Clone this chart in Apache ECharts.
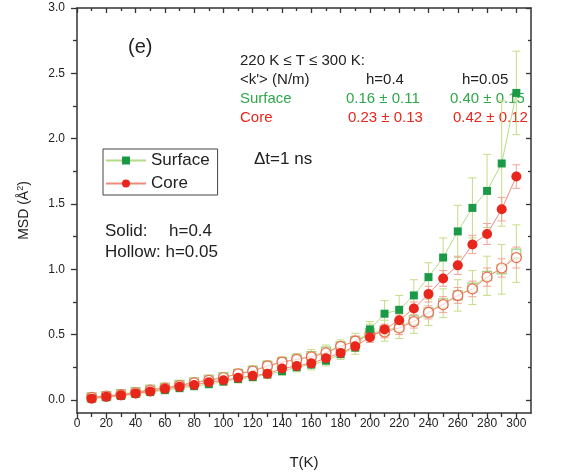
<!DOCTYPE html>
<html>
<head>
<meta charset="utf-8">
<script src="https://cdn.jsdelivr.net/npm/echarts@6/dist/echarts.min.js"></script>
<style>
  html, body { margin: 0; padding: 0; background: #fff; }
  #chart { width: 567px; height: 475px; }
</style>
</head>
<body>
<div id="chart"></div>
<script>
// temperatures (K)
const temps = [10, 20, 30, 40, 50, 60, 70, 80, 90, 100, 110, 120, 130, 140, 150,
  160, 170, 180, 190, 200, 210, 220, 230, 240, 250, 260, 270, 280, 290, 300];

// solid symbols: h = 0.4
const surfaceSolid = [0.01, 0.02, 0.03, 0.045, 0.06, 0.075, 0.09, 0.105, 0.12, 0.14,
  0.16, 0.175, 0.195, 0.22, 0.25, 0.27, 0.30, 0.35, 0.40, 0.54,
  0.66, 0.69, 0.80, 0.94, 1.09, 1.29, 1.47, 1.60, 1.81, 2.35];
const surfaceSolidErr = [0.01, 0.01, 0.01, 0.015, 0.015, 0.02, 0.02, 0.02, 0.02, 0.025,
  0.03, 0.03, 0.03, 0.03, 0.035, 0.04, 0.04, 0.04, 0.05, 0.06,
  0.10, 0.11, 0.12, 0.11, 0.15, 0.20, 0.23, 0.28, 0.48, 0.32];

const coreSolid = [0.01, 0.025, 0.035, 0.05, 0.065, 0.085, 0.10, 0.115, 0.135, 0.15,
  0.17, 0.185, 0.20, 0.24, 0.26, 0.28, 0.32, 0.36, 0.41, 0.48,
  0.54, 0.61, 0.70, 0.81, 0.93, 1.03, 1.19, 1.27, 1.46, 1.71];
const coreSolidErr = [0.01, 0.01, 0.01, 0.01, 0.01, 0.015, 0.015, 0.015, 0.02, 0.02,
  0.02, 0.02, 0.025, 0.025, 0.03, 0.03, 0.03, 0.03, 0.035, 0.04,
  0.04, 0.05, 0.05, 0.06, 0.06, 0.07, 0.07, 0.08, 0.09, 0.09];

// hollow symbols: h = 0.05
const surfaceHollow = [0.02, 0.03, 0.045, 0.06, 0.08, 0.095, 0.115, 0.135, 0.155, 0.175,
  0.20, 0.225, 0.26, 0.29, 0.31, 0.335, 0.37, 0.41, 0.45, 0.51,
  0.53, 0.56, 0.61, 0.67, 0.74, 0.80, 0.86, 0.95, 1.00, 1.12];
const surfaceHollowErr = [0.01, 0.015, 0.015, 0.02, 0.02, 0.02, 0.025, 0.025, 0.03, 0.03,
  0.035, 0.035, 0.04, 0.04, 0.045, 0.05, 0.05, 0.05, 0.06, 0.07,
  0.08, 0.09, 0.10, 0.10, 0.11, 0.12, 0.13, 0.15, 0.19, 0.22];

const coreHollow = [0.02, 0.03, 0.04, 0.055, 0.075, 0.09, 0.11, 0.13, 0.15, 0.17,
  0.20, 0.22, 0.26, 0.29, 0.31, 0.33, 0.36, 0.41, 0.45, 0.50,
  0.52, 0.55, 0.60, 0.67, 0.73, 0.80, 0.85, 0.94, 1.01, 1.09];
const coreHollowErr = [0.01, 0.01, 0.01, 0.015, 0.015, 0.015, 0.02, 0.02, 0.02, 0.02,
  0.025, 0.025, 0.025, 0.03, 0.03, 0.03, 0.035, 0.035, 0.04, 0.04,
  0.045, 0.05, 0.05, 0.05, 0.06, 0.06, 0.06, 0.07, 0.07, 0.08];

// tick labels
const xTickLabels = [0, 20, 40, 60, 80, 100, 120, 140, 160, 180, 200, 220, 240, 260, 280, 300];
const xMinorTicks = [10, 30, 50, 70, 90, 110, 130, 150, 170, 190, 210, 230, 250, 270, 290];
const yTickLabels = [0, 0.5, 1.0, 1.5, 2.0, 2.5, 3.0];
const yMinorTicks = [0.25, 0.75, 1.25, 1.75, 2.25, 2.75];

const FONT = "'Liberation Sans', Arial, sans-serif";
const GREEN = '#1a9a46';
const RED = '#e8261c';
const AXIS = '#333';
const gridBox = { left: 77, right: 36, top: 8, bottom: 62, containLabel: false };

function pairs(vals) {
  return temps.map((t, i) => [t, vals[i]]);
}
function bars(vals, errs) {
  return temps.map((t, i) => [t, vals[i] - errs[i], vals[i] + errs[i]]);
}

function errorBarSeries(vals, errs, color) {
  return {
    type: 'custom',
    z: 1,
    silent: true,
    data: bars(vals, errs),
    renderItem: function (params, api) {
      const x = api.value(0);
      const lo = api.coord([x, api.value(1)]);
      const hi = api.coord([x, api.value(2)]);
      const w = 4;
      const st = { stroke: color, lineWidth: 1 };
      return {
        type: 'group',
        children: [
          { type: 'line', shape: { x1: lo[0], y1: lo[1], x2: hi[0], y2: hi[1] }, style: st },
          { type: 'line', shape: { x1: lo[0] - w, y1: lo[1], x2: lo[0] + w, y2: lo[1] }, style: st },
          { type: 'line', shape: { x1: hi[0] - w, y1: hi[1], x2: hi[0] + w, y2: hi[1] }, style: st }
        ]
      };
    }
  };
}

// one axis side: major ticks on grid 0, minor ticks on grid 1
function xSide(pos, gridIndex, ticks, len, inside, withLine, extra) {
  return Object.assign({
    type: 'value', gridIndex: gridIndex, position: pos, min: 0, max: 310,
    axisLine: { show: withLine, onZero: false, lineStyle: { color: AXIS, width: 1.5 } },
    axisTick: { show: true, inside: inside, length: len, customValues: ticks, lineStyle: { color: AXIS, width: 1.3 } },
    axisLabel: { show: false },
    splitLine: { show: false }
  }, extra || {});
}
function ySide(pos, gridIndex, ticks, len, inside, withLine, extra) {
  return Object.assign({
    type: 'value', gridIndex: gridIndex, position: pos, min: -0.1, max: 3.0,
    axisLine: { show: withLine, onZero: false, lineStyle: { color: AXIS, width: 1.5 } },
    axisTick: { show: true, inside: inside, length: len, customValues: ticks, lineStyle: { color: AXIS, width: 1.3 } },
    axisLabel: { show: false },
    splitLine: { show: false }
  }, extra || {});
}

const option = {
  animation: false,
  backgroundColor: '#fff',
  grid: [Object.assign({}, gridBox), Object.assign({}, gridBox)],
  legend: {
    left: 103, top: 149,
    orient: 'vertical',
    data: ['Surface', 'Core'],
    itemWidth: 40, itemHeight: 10, itemGap: 6,
    padding: [3, 8, 3, 2],
    borderColor: '#444', borderWidth: 1,
    textStyle: { fontFamily: FONT, fontSize: 17, color: '#222' }
  },
  xAxis: [
    xSide('bottom', 0, xTickLabels, 6, false, true, {
      name: 'T(K)', nameLocation: 'middle', nameGap: 42,
      nameTextStyle: { fontFamily: FONT, fontSize: 15, color: '#222' },
      axisLabel: { show: true, customValues: xTickLabels, fontFamily: FONT, fontSize: 12, color: '#222', margin: 5 }
    }),
    xSide('top', 0, xTickLabels, 5, true, true),
    xSide('bottom', 1, xMinorTicks, 4, false, false),
    xSide('top', 1, xMinorTicks, 3, true, false)
  ],
  yAxis: [
    ySide('left', 0, yTickLabels, 6, false, true, {
      name: 'MSD (Å{sup|2})', nameLocation: 'middle', nameGap: 44, nameRotate: 90,
      nameTextStyle: {
        fontFamily: FONT, fontSize: 14, color: '#222',
        rich: { sup: { fontFamily: FONT, fontSize: 9, color: '#222', verticalAlign: 'top', padding: [0, 0, 8, 0] } }
      },
      axisLabel: {
        show: true, customValues: yTickLabels, fontFamily: FONT, fontSize: 12, color: '#222', margin: 12,
        formatter: v => v.toFixed(1)
      }
    }),
    ySide('right', 0, yTickLabels, 5, true, true),
    ySide('left', 1, yMinorTicks, 4, false, false),
    ySide('right', 1, yMinorTicks, 3, true, false)
  ],
  series: [
    errorBarSeries(surfaceHollow, surfaceHollowErr, '#c4dc86'),
    errorBarSeries(coreHollow, coreHollowErr, '#f3a394'),
    errorBarSeries(surfaceSolid, surfaceSolidErr, '#c4dc86'),
    errorBarSeries(coreSolid, coreSolidErr, '#f3a394'),
    {
      name: 'Surface h=0.05', type: 'line', z: 2, data: pairs(surfaceHollow),
      symbol: 'rect', symbolSize: 9,
      lineStyle: { color: '#b9dc8a', width: 1 },
      itemStyle: { color: '#fff', borderColor: '#9fd07a', borderWidth: 1.2 }
    },
    {
      name: 'Core h=0.05', type: 'line', z: 3, data: pairs(coreHollow),
      symbol: 'circle', symbolSize: 10,
      lineStyle: { color: '#f29080', width: 1 },
      itemStyle: { color: 'rgba(255,255,255,0.6)', borderColor: '#f06a50', borderWidth: 1.2 }
    },
    {
      name: 'Surface', type: 'line', z: 4, data: pairs(surfaceSolid),
      symbol: 'rect', symbolSize: 8,
      lineStyle: { color: '#b5dc86', width: 1 },
      itemStyle: { color: GREEN }
    },
    {
      name: 'Core', type: 'line', z: 5, data: pairs(coreSolid),
      symbol: 'circle', symbolSize: 10,
      lineStyle: { color: '#f08a7a', width: 1 },
      itemStyle: { color: RED }
    }
  ],
  graphic: [
    { type: 'text', left: 128, top: 37, style: { text: '(e)', fontFamily: FONT, fontSize: 20, fill: '#222' } },
    { type: 'text', left: 240, top: 53, style: { text: '220 K \u2264 T \u2264 300 K:', fontFamily: FONT, fontSize: 15, fill: '#222' } },
    { type: 'text', left: 240, top: 72, style: { text: "<k'> (N/m)", fontFamily: FONT, fontSize: 15, fill: '#222' } },
    { type: 'text', left: 366, top: 72, style: { text: 'h=0.4', fontFamily: FONT, fontSize: 15, fill: '#222' } },
    { type: 'text', left: 462, top: 72, style: { text: 'h=0.05', fontFamily: FONT, fontSize: 15, fill: '#222' } },
    { type: 'text', left: 240, top: 91, style: { text: 'Surface', fontFamily: FONT, fontSize: 15, fill: '#2fa84a' } },
    { type: 'text', left: 346, top: 91, style: { text: '0.16 \u00b1 0.11', fontFamily: FONT, fontSize: 15, fill: '#2fa84a' } },
    { type: 'text', left: 450, top: 91, style: { text: '0.40 \u00b1 0.15', fontFamily: FONT, fontSize: 15, fill: '#2fa84a' } },
    { type: 'text', left: 240, top: 110, style: { text: 'Core', fontFamily: FONT, fontSize: 15, fill: '#e8261c' } },
    { type: 'text', left: 348, top: 110, style: { text: '0.23 \u00b1 0.13', fontFamily: FONT, fontSize: 15, fill: '#e8261c' } },
    { type: 'text', left: 453, top: 110, style: { text: '0.42 \u00b1 0.12', fontFamily: FONT, fontSize: 15, fill: '#e8261c' } },
    { type: 'text', left: 254, top: 151, style: { text: '\u0394t=1 ns', fontFamily: FONT, fontSize: 17, fill: '#222' } },
    { type: 'text', left: 105, top: 223, style: { text: 'Solid:', fontFamily: FONT, fontSize: 17, fill: '#222' } },
    { type: 'text', left: 169, top: 223, style: { text: 'h=0.4', fontFamily: FONT, fontSize: 17, fill: '#222' } },
    { type: 'text', left: 105, top: 244, style: { text: 'Hollow: h=0.05', fontFamily: FONT, fontSize: 17, fill: '#222' } }
  ]
};

const chart = echarts.init(document.getElementById('chart'));
chart.setOption(option);
</script>
</body>
</html>
